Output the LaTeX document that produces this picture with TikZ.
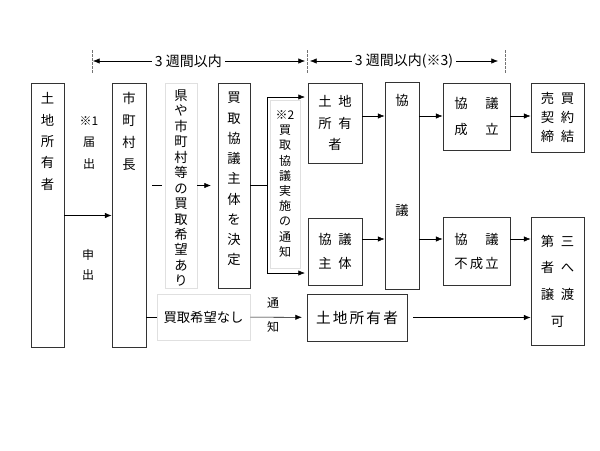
\documentclass[tikz,border=0pt]{standalone}
\usepackage{fontspec}
\setmainfont{Noto Sans CJK JP}
\usetikzlibrary{arrows.meta}
\begin{document}
\begin{tikzpicture}[x=0.75pt, y=-0.75pt, >={Latex[length=5pt,width=4pt]},
    box/.style={draw=black!80, line width=0.6pt, inner sep=0pt, align=center},
    faint/.style={draw=black!12, line width=0.5pt, inner sep=0pt, align=center},
    col/.style={align=center, inner sep=0pt}]
  \useasboundingbox (0,0) rectangle (600,450);

  % tall boxes, text at the top
  \node[box, minimum width=24.75pt, minimum height=198pt] at (47.5,215.5) (own) {};
  \node[box, minimum width=25.5pt, minimum height=198pt] at (129,215.5) (mayor) {};
  \node[faint, minimum width=24pt, minimum height=153.75pt] at (181,185.5) (wish) {};
  \node[box, minimum width=24pt, minimum height=153.75pt] at (234,185.5) (decide) {};
  \node[box, minimum width=25.5pt, minimum height=155.25pt] at (402,185.5) (talks) {};

  \node[col, anchor=north, font=\fontsize{10}{16}\selectfont] at ([yshift=-7pt]own.north) (ownT) {土\\地\\所\\有\\者};
  \node[col, anchor=north, font=\fontsize{10}{16.5}\selectfont] at ([yshift=-7pt]mayor.north) (mayorT) {市\\町\\村\\長};
  \node[col, anchor=north, font=\fontsize{10}{11.6}\selectfont] at ([yshift=-5pt]wish.north) (wishT) {県\\や\\市\\町\\村\\等\\の\\買\\取\\希\\望\\あ\\り};
  \node[col, anchor=north, font=\fontsize{10}{15.2}\selectfont] at ([yshift=-7pt]decide.north) (decideT) {買\\取\\協\\議\\主\\体\\を\\決\\定};
  \node[col, anchor=north, font=\fontsize{10}{16}\selectfont] at ([yshift=-9pt]talks.north) (talksT) {協\\[66.5pt]議};

  % boxes with centred text
  \node[faint, minimum width=22.5pt, minimum height=126pt, font=\fontsize{9}{11.4}\selectfont] at (285,184) (notice) {※2\\買\\取\\協\\議\\実\\施\\の\\通\\知};
  \node[box, minimum width=40.5pt, minimum height=60pt, font=\fontsize{10}{16}\selectfont] at (335,123) (owner2) {土\hspace{5pt}地\\所\hspace{5pt}有\\者};
  \node[box, minimum width=40.5pt, minimum height=50.25pt, font=\fontsize{10}{18}\selectfont] at (335,251.5) (party) {協\hspace{5pt}議\\主\hspace{5pt}体};
  \node[box, minimum width=50.25pt, minimum height=50.25pt, font=\fontsize{10}{19}\selectfont] at (476.5,116.5) (agreed) {協\hspace{13.3pt}議\\成\hspace{13.3pt}立};
  \node[box, minimum width=50.25pt, minimum height=51pt, font=\fontsize{10}{18}\selectfont] at (476.5,251) (failed) {協\hspace{13.3pt}議\\不\hspace{1.6pt}成\hspace{1.6pt}立};
  \node[box, minimum width=39.75pt, minimum height=51.75pt, font=\fontsize{10}{14.25}\selectfont] at (557.5,117.5) (contract) {売\hspace{5pt}買\\契\hspace{5pt}約\\締\hspace{5pt}結};
  \node[box, minimum width=39.75pt, minimum height=96pt, font=\fontsize{10}{20}\selectfont] at (557.5,281) (third) {第\hspace{5pt}三\\者\hspace{5pt}へ\\譲\hspace{5pt}渡\\可};
  \node[faint, minimum width=69.75pt, minimum height=34.5pt, font=\fontsize{10}{12}\selectfont] at (203.5,317) (nowish) {買取希望なし};
  \node[box, minimum width=75pt, minimum height=35.25pt, font=\fontsize{11}{13}\selectfont] at (357,317.5) (owner3) {土\hspace{1.6pt}地\hspace{1.6pt}所\hspace{1.6pt}有\hspace{1.6pt}者};

  % notes
  \node[col, font=\fontsize{9}{16}\selectfont] at (89,143) (report) {※1\\届\\出};
  \node[col, font=\fontsize{9}{15}\selectfont] at (88,265) (apply) {申\\出};
  \node[col, font=\fontsize{9}{18}\selectfont] at (273,315) (inform) {通\\知};

  % time limits
  \foreach \x in {92,307,505}
    \draw[black!55, dash pattern=on 2pt off 1pt] (\x,50) -- (\x,73);
  \coordinate (w1) at (93,61);
  \coordinate (w2) at (305,61);
  \coordinate (w3) at (310,61);
  \coordinate (w4) at (498,61);
  \draw[<->] (w1) -- (w2) node[pos=0.45, fill=white, inner sep=2.5pt, font=\fontsize{10.5}{12}\selectfont] (lim1) {3 週間以内};
  \draw[<->] (w3) -- (w4) node[midway, fill=white, inner sep=2.5pt, font=\fontsize{10.5}{12}\selectfont] (lim2) {3 週間以内(※3)};

  % connectors
  \coordinate (forkM) at (267,185.5);
  \coordinate (forkT) at (267,97);
  \coordinate (forkB) at (267,273);
  \coordinate (rowA) at (0,116);
  \coordinate (rowB) at (0,239);

  \draw[->] (own) edge (mayor);
  \draw[shorten <=4.5pt, shorten >=2pt] (mayor.east |- wish) -- (wish);
  \draw[->, shorten >=5pt] (wish) edge (decide);
  \draw (decide) -- (forkM);
  \draw (forkT) -- (forkB);
  \draw[->, shorten >=2pt] (forkT) -- (forkT -| owner2.west);
  \draw[->, shorten >=2pt] (forkB) -- (forkB -| party.west);
  \draw[->] (owner2.east |- rowA) -- (talks.west |- rowA);
  \draw[->] (party.east |- rowB) -- (talks.west |- rowB);
  \draw[->] (talks.east |- rowA) -- (agreed.west |- rowA);
  \draw[->] (talks.east |- rowB) -- (failed.west |- rowB);
  \draw[->] (agreed.east |- rowA) -- (contract.west |- rowA);
  \draw[->] (failed.east |- rowB) -- (third.west |- rowB);
  \draw (mayor.east |- nowish) -- (nowish);
  \draw[->, shorten >=3.5pt] (nowish) edge (owner3);
  \draw[->, shorten <=4.5pt] (owner3) edge (owner3 -| third.west);
\end{tikzpicture}
\end{document}
